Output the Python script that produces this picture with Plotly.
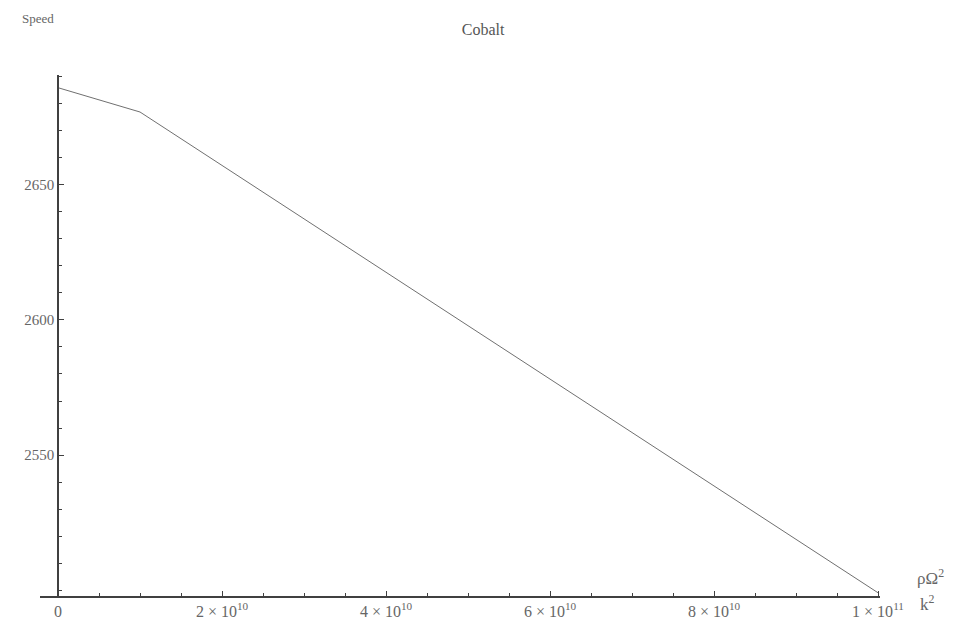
import plotly.graph_objects as go

# Data
x_vals = [0, 1.0e10, 1.0e11]
speed = [2686, 2677, 2499]

x_tickvals = [0, 2e10, 4e10, 6e10, 8e10, 1e11]
x_ticktext = ["0", "2 × 10<sup>10</sup>", "4 × 10<sup>10</sup>", "6 × 10<sup>10</sup>",
              "8 × 10<sup>10</sup>", "1 × 10<sup>11</sup>"]
y_tickvals = [2550, 2600, 2650]
y_ticktext = ["2550", "2600", "2650"]

FONT = "Liberation Serif"
TXT = "#666666"
AX = "#404040"

fig = go.Figure()
fig.add_trace(go.Scatter(x=x_vals, y=speed, mode="lines",
                         line=dict(color="#707070", width=1), showlegend=False,
                         hoverinfo="skip"))

W, H = 953, 636
L, R, T, B = 40, 73, 75, 40
pw = W - L - R
x0_px, x1_px = 58, 878
ppu = (x1_px - x0_px) / 1e11
xmin = -(x0_px - L) / ppu
xmax = 1e11 + (W - R - x1_px) / ppu

fig.update_layout(
    width=W, height=H,
    margin=dict(l=L, r=R, t=T, b=B),
    paper_bgcolor="white", plot_bgcolor="white",
    font=dict(family=FONT, color=TXT, size=15),
    title=dict(text="Cobalt", x=0.507, xanchor="center", y=0.953, yanchor="middle",
               font=dict(family=FONT, size=16, color="#555")),
    xaxis=dict(range=[xmin, xmax], showgrid=False, zeroline=False,
               showline=True, linecolor=AX, linewidth=1.5,
               ticks="inside", ticklen=5, tickcolor=AX, tickwidth=1,
               tickvals=x_tickvals, ticktext=x_ticktext,
               tickfont=dict(family=FONT, size=16, color=TXT),
               minor=dict(dtick=5e9, tick0=0, ticks="inside", ticklen=3,
                          tickcolor=AX, showgrid=False)),
    yaxis=dict(range=[2497.8, 2690.7], showgrid=False, zeroline=False,
               anchor="free", position=(x0_px - L) / pw,
               showline=True, linecolor=AX, linewidth=1.5,
               ticks="inside", ticklen=5, tickcolor=AX, tickwidth=1,
               tickvals=y_tickvals, ticktext=y_ticktext,
               tickfont=dict(family=FONT, size=15, color=TXT),
               minor=dict(dtick=10, tick0=2500, ticks="inside", ticklen=3,
                          tickcolor=AX, showgrid=False)),
)

fig.add_annotation(text="Speed", xref="paper", yref="paper",
                   x=(38 - L) / pw, y=1 + (T - 18) / (H - T - B),
                   showarrow=False, xanchor="center", yanchor="middle",
                   font=dict(family=FONT, size=13, color=TXT))
fig.add_annotation(text="ρΩ<sup>2</sup>", xref="paper", yref="paper",
                   x=(930 - L) / pw, y=(H - B - 577) / (H - T - B),
                   showarrow=False, xanchor="center", yanchor="middle",
                   font=dict(family=FONT, size=17, color=TXT))
fig.add_annotation(text="k<sup>2</sup>", xref="paper", yref="paper",
                   x=(927 - L) / pw, y=(H - B - 603) / (H - T - B),
                   showarrow=False, xanchor="center", yanchor="middle",
                   font=dict(family=FONT, size=17, color=TXT))

fig.write_html("out.html")
